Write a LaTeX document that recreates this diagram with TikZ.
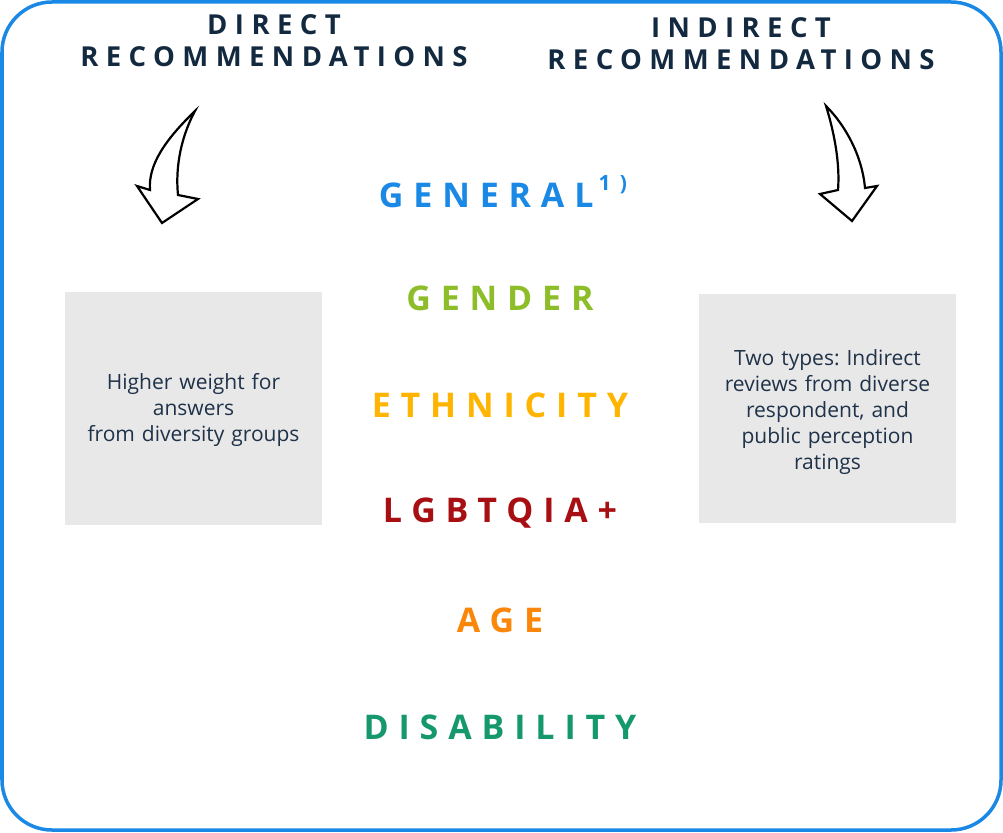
\documentclass[tikz,border=0pt]{standalone}
\usepackage{fontspec}
\setmainfont{Open Sans}
\newfontfamily\headfont[LetterSpace=27]{Open Sans}
\newfontfamily\catfont[LetterSpace=29]{Open Sans}
\newfontfamily\notefont[LetterSpace=45]{Open Sans}
\usepackage{tikz}
\usetikzlibrary{positioning}
\usepackage{xcolor}
\definecolor{framecol}{HTML}{1A88E5}
\definecolor{navy}{HTML}{13293F}
\definecolor{boxtext}{HTML}{1F3249}
\definecolor{boxfill}{HTML}{E8E8E8}
\definecolor{generalcol}{HTML}{1A88E5}
\definecolor{gendercol}{HTML}{8DBE2A}
\definecolor{ethnicol}{HTML}{FFB400}
\definecolor{lgbtcol}{HTML}{A80F12}
\definecolor{agecol}{HTML}{FA860A}
\definecolor{disabcol}{HTML}{16986E}
\tikzset{
	frame/.style={draw=framecol, line width=3.5pt, rounded corners=50pt},
	heading/.style={align=center, text=navy, font=\headfont\bfseries\fontsize{27.5}{32}\selectfont},
	infobox/.style={fill=boxfill, minimum width=257pt, text width=245pt, align=center,
		text=boxtext, font=\frenchspacing\fontsize{21}{26}\selectfont},
	category/.style={font=\catfont\bfseries\fontsize{34}{38}\selectfont},
	bentarrow/.style={draw=black, line width=2.2pt, fill=white, line join=miter}
}

\begin{document}
\begin{tikzpicture}[x=1pt, y=-1pt]
	\useasboundingbox (0,0) rectangle (1003,832);
	\draw[frame] (2,2) rectangle (1001,830);

	\node[heading] (direct) at (274,41) {DIRECT\\RECOMMENDATIONS};
	\node[heading] (indirect) at (741,44) {INDIRECT\\RECOMMENDATIONS};

	% arrows
	\draw[bentarrow] (195,111) .. controls (165,140) and (148,165) .. (150,190) -- (137,186)
		-- (162,223) -- (198,199) -- (178,195) .. controls (175,165) and (182,135) .. (195,111) -- cycle;
	\draw[bentarrow] (826,106) .. controls (835,135) and (840,165) .. (838,190) -- (820,194)
		-- (852,221) -- (877,186) -- (865,188) .. controls (862,155) and (845,125) .. (826,106) -- cycle;

	\node[infobox, minimum height=233pt] (direct box) at (193.5,408.5)
		{\rule{0pt}{20pt}Higher weight for\\answers\\from diversity groups};
	\node[infobox, minimum height=229pt] (indirect box) at (827.5,408.5)
		{\rule{0pt}{23pt}Two types: Indirect\\reviews from diverse\\respondent, and\\public perception\\ratings};

	\node[category, text=generalcol] (general) at (503,192) {GENERAL\kern5pt\raisebox{0.5em}{\notefont\bfseries\fontsize{21}{22}\selectfont 1)}};
	\node[category, text=gendercol] (gender) at (500,298) {GENDER};
	\node[category, text=ethnicol] (ethnicity) at (500,405) {ETHNICITY};
	\node[category, text=lgbtcol] (lgbt) at (500,513) {LGBTQIA+};
	\node[category, text=agecol] (age) at (500,620) {AGE};
	\node[category, text=disabcol] (disability) at (500,727) {DISABILITY};
\end{tikzpicture}
\end{document}
